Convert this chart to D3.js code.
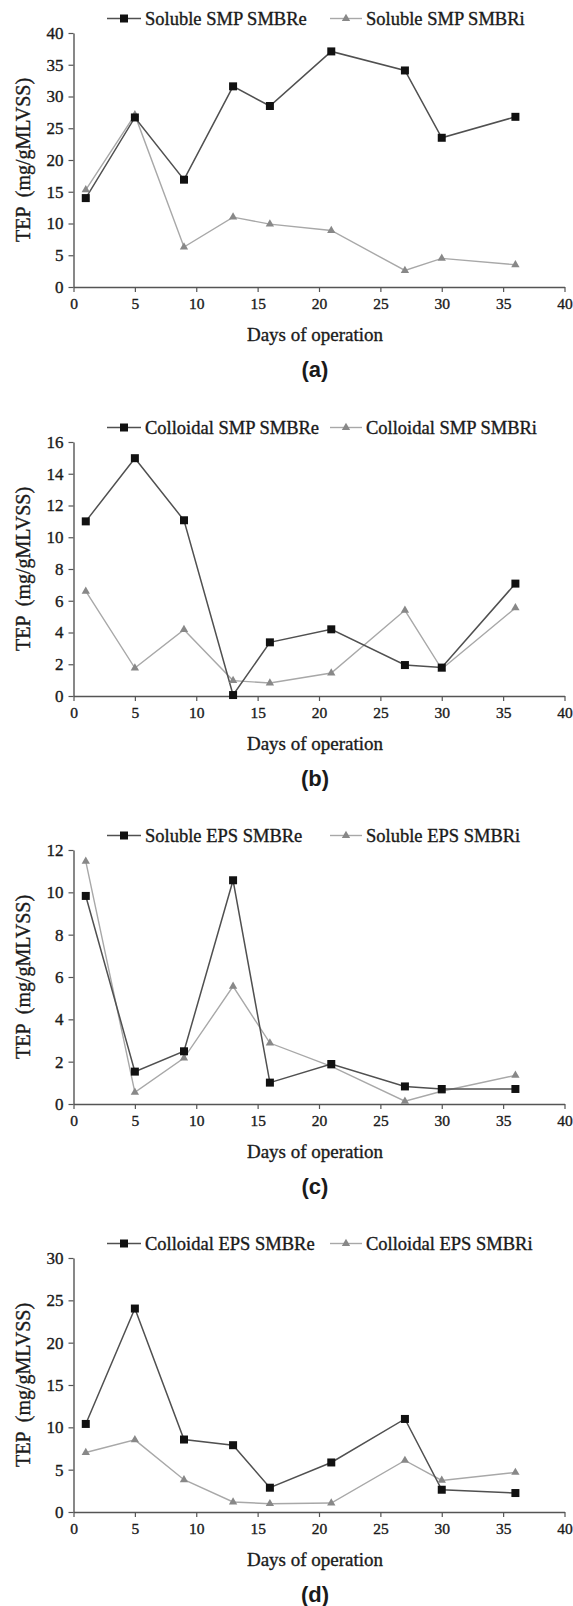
<!DOCTYPE html>
<html>
<head>
<meta charset="utf-8">
<script src="https://cdn.jsdelivr.net/npm/d3@7"></script>
<style>
  html, body { margin: 0; padding: 0; background: #fff; }
  svg { display: block; }
  text { white-space: pre; }
  text.serif { stroke: #1a1a1a; stroke-width: 0.35px; }
</style>
</head>
<body>
<svg id="chart" width="573" height="1606"></svg>
<script>
// ---------- data ----------
const days = [1, 5, 9, 13, 16, 21, 27, 30, 36];
const xTicks = [0, 5, 10, 15, 20, 25, 30, 35, 40];

const solubleSmpE = [14.0, 26.7, 16.9, 31.6, 28.5, 37.1, 34.1, 23.5, 26.8];
const solubleSmpI = [15.3, 27.1, 6.3, 11.0, 9.9, 8.9, 2.6, 4.5, 3.5];

const colloidalSmpE = [11.0, 14.98, 11.07, 0.06, 3.38, 4.2, 1.95, 1.79, 7.08];
const colloidalSmpI = [6.6, 1.76, 4.18, 0.97, 0.82, 1.45, 5.4, 1.7, 5.55];

const solubleEpsE = [9.83, 1.53, 2.49, 10.57, 1.01, 1.89, 0.83, 0.71, 0.71];
const solubleEpsI = [11.46, 0.55, 2.17, 5.56, 2.88, 1.78, 0.13, 0.6, 1.35];

const colloidalEpsE = [10.4, 24.03, 8.56, 7.89, 2.87, 5.85, 10.99, 2.63, 2.24];
const colloidalEpsI = [7.03, 8.52, 3.81, 1.18, 0.98, 1.06, 6.09, 3.73, 4.67];

const panelLabels = ["(a)", "(b)", "(c)", "(d)"];
const seriesNamesE = ["Soluble SMP SMBRe", "Colloidal SMP SMBRe", "Soluble EPS SMBRe", "Colloidal EPS SMBRe"];
const seriesNamesI = ["Soluble SMP SMBRi", "Colloidal SMP SMBRi", "Soluble EPS SMBRi", "Colloidal EPS SMBRi"];
const yMaxes = [40, 16, 12, 30];
const yTickSteps = [5, 2, 2, 5];
const yTitle = "TEP  (mg/gMLVSS)";
const xTitle = "Days of operation";

// ---------- layout ----------
const panels = [
  { top: 33, e: solubleSmpE, i: solubleSmpI },
  { top: 442, e: colloidalSmpE, i: colloidalSmpI },
  { top: 850, e: solubleEpsE, i: solubleEpsI },
  { top: 1258, e: colloidalEpsE, i: colloidalEpsI }
];
const plotH = 254;
const left = 73.5, right = 564.5;
const serif = "'Liberation Serif', 'Times New Roman', serif";
const colE = "#505050", colI = "#a8a8a8", triFill = "#888", axisCol = "#555";

const svg = d3.select("#chart");
const x = d3.scaleLinear().domain([0, 40]).range([left, right]);
const sq = d3.symbol().type(d3.symbolSquare).size(64);
const tri = d3.symbol().type(d3.symbolTriangle).size(30);

panels.forEach((p, k) => {
  const bottom = p.top + plotH;
  const y = d3.scaleLinear().domain([0, yMaxes[k]]).range([bottom, p.top]);
  const g = svg.append("g");

  // axes
  const yAxis = d3.axisLeft(y)
    .tickValues(d3.range(0, yMaxes[k] + 0.001, yTickSteps[k]))
    .tickSize(5).tickPadding(5).tickSizeOuter(0);
  const ga = g.append("g").attr("transform", `translate(${left},0)`).call(yAxis);
  const xAxis = d3.axisBottom(x).tickValues(xTicks).tickSize(5).tickPadding(6).tickSizeOuter(0);
  const gx = g.append("g").attr("transform", `translate(0,${bottom})`).call(xAxis);
  [ga, gx].forEach(a => {
    a.attr("font-family", serif);
    a.selectAll("path.domain").attr("stroke", axisCol).attr("stroke-width", 1.4);
    a.selectAll(".tick line").attr("stroke", axisCol).attr("stroke-width", 1.2);
    a.selectAll(".tick text").attr("class", "serif").attr("fill", "#1a1a1a").style("font-family", serif);
  });
  ga.selectAll(".tick text").style("font-size", "17px");
  gx.selectAll(".tick text").style("font-size", "15.5px");

  // lines
  const line = vals => d3.line().x((d, j) => x(days[j])).y(d => y(d))(vals);
  g.append("path").attr("d", line(p.i)).attr("fill", "none").attr("stroke", colI).attr("stroke-width", 1.4);
  g.append("path").attr("d", line(p.e)).attr("fill", "none").attr("stroke", colE).attr("stroke-width", 1.5);

  g.selectAll(".tri").data(p.i).enter().append("path")
    .attr("d", tri).attr("fill", triFill)
    .attr("transform", (d, j) => `translate(${x(days[j])},${y(d)})`);
  g.selectAll(".sq").data(p.e).enter().append("path")
    .attr("d", sq).attr("fill", "#111")
    .attr("transform", (d, j) => `translate(${x(days[j])},${y(d)})`);

  // legend
  const ly = p.top - 14.5;
  g.append("line").attr("x1", 107).attr("x2", 141).attr("y1", ly).attr("y2", ly).attr("stroke", colE).attr("stroke-width", 1.5);
  g.append("path").attr("d", sq).attr("fill", "#111").attr("transform", `translate(124,${ly})`);
  g.append("text").attr("class", "serif").attr("x", 145).attr("y", ly).attr("dy", "0.35em")
    .style("font-family", serif).style("font-size", "18.5px").attr("fill", "#1a1a1a").text(seriesNamesE[k]);
  g.append("line").attr("x1", 330).attr("x2", 362).attr("y1", ly).attr("y2", ly).attr("stroke", colI).attr("stroke-width", 1.4);
  g.append("path").attr("d", tri).attr("fill", triFill).attr("transform", `translate(346,${ly})`);
  g.append("text").attr("class", "serif").attr("x", 366).attr("y", ly).attr("dy", "0.35em")
    .style("font-family", serif).style("font-size", "18.5px").attr("fill", "#1a1a1a").text(seriesNamesI[k]);

  // y title
  g.append("text").attr("class", "serif")
    .attr("transform", `translate(23,${(p.top + bottom) / 2}) rotate(-90)`)
    .attr("text-anchor", "middle").attr("dy", "0.35em")
    .style("font-family", serif).style("font-size", "20px").attr("fill", "#1a1a1a")
    .text(yTitle);

  // x title
  g.append("text").attr("class", "serif").attr("x", (left + right) / 2 - 4).attr("y", bottom + 47).attr("dy", "0.35em")
    .attr("text-anchor", "middle")
    .style("font-family", serif).style("font-size", "19px").attr("fill", "#1a1a1a")
    .text(xTitle);

  // panel label
  g.append("text").attr("x", (left + right) / 2 - 4).attr("y", bottom + 82).attr("dy", "0.35em")
    .attr("text-anchor", "middle")
    .style("font-family", "'Liberation Sans', Arial, sans-serif").style("font-size", "22px")
    .style("font-weight", "bold").attr("fill", "#1a1a1a")
    .text(panelLabels[k]);
});
</script>
</body>
</html>
